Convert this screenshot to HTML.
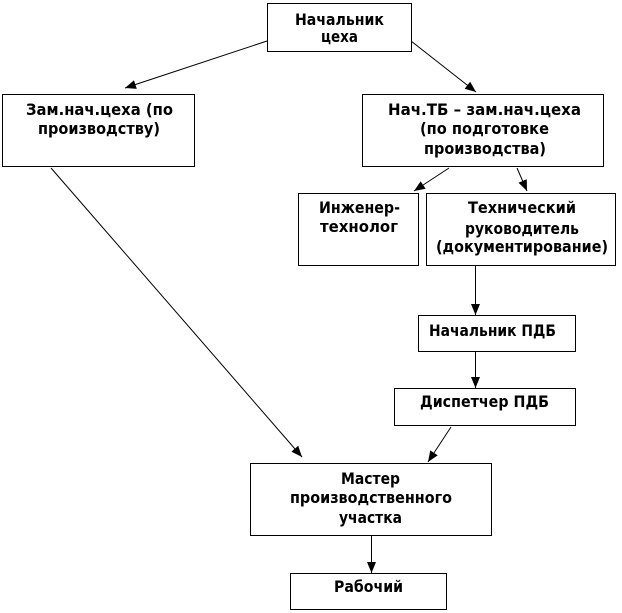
<!DOCTYPE html>
<html><head><meta charset="utf-8"><style>
html,body{margin:0;padding:0;background:#fff}
svg{display:block}
text{font-family:"DejaVu Sans","Liberation Sans",sans-serif;font-weight:bold;font-size:16px;fill:#000}
rect{fill:#fff;stroke:#000;stroke-width:1}
line{stroke:#000;stroke-width:1}
</style></head><body>
<svg width="622" height="613" viewBox="0 0 622 613" xmlns="http://www.w3.org/2000/svg">
<defs><marker id="a" markerUnits="userSpaceOnUse" markerWidth="12" markerHeight="10" refX="11" refY="5" orient="auto"><path d="M0 0.500L11 5L0 9.500z" fill="#000"/></marker></defs>
<line x1="267" y1="41" x2="125" y2="88" marker-end="url(#a)"/>
<line x1="411" y1="41" x2="476" y2="92" marker-end="url(#a)"/>
<line x1="449" y1="168" x2="414" y2="191" marker-end="url(#a)"/>
<line x1="517" y1="168" x2="527" y2="191" marker-end="url(#a)"/>
<line x1="51" y1="168" x2="302" y2="457" marker-end="url(#a)"/>
<line x1="475.500" y1="266" x2="475.500" y2="315" marker-end="url(#a)"/>
<line x1="475.500" y1="352" x2="475.500" y2="388" marker-end="url(#a)"/>
<line x1="451" y1="427" x2="428" y2="462" marker-end="url(#a)"/>
<line x1="371.500" y1="536" x2="371.500" y2="573" marker-end="url(#a)"/>
<rect x="267.500" y="3.500" width="144" height="48"/>
<rect x="2.500" y="94.500" width="192" height="72"/>
<rect x="362.500" y="94.500" width="241" height="72"/>
<rect x="298.500" y="193.500" width="120" height="72"/>
<rect x="426.500" y="193.500" width="189" height="72"/>
<rect x="418.500" y="315.500" width="157" height="36"/>
<rect x="394.500" y="388.500" width="181" height="37"/>
<rect x="250.500" y="463.500" width="241" height="72"/>
<rect x="290.500" y="573.500" width="156" height="36"/>
<text x="295" y="25" textLength="89" lengthAdjust="spacingAndGlyphs">Начальник</text>
<text x="321" y="42" textLength="37" lengthAdjust="spacingAndGlyphs">цеха</text>
<text x="26" y="115" textLength="147" lengthAdjust="spacingAndGlyphs">Зам.нач.цеха (по</text>
<text x="38" y="134" textLength="122" lengthAdjust="spacingAndGlyphs">производству)</text>
<text x="388" y="115" textLength="193" lengthAdjust="spacingAndGlyphs">Нач.ТБ – зам.нач.цеха</text>
<text x="420" y="134" textLength="129" lengthAdjust="spacingAndGlyphs">(по подготовке</text>
<text x="424" y="154" textLength="122" lengthAdjust="spacingAndGlyphs">производства)</text>
<text x="319" y="213" textLength="81" lengthAdjust="spacingAndGlyphs">Инженер-</text>
<text x="320" y="232" textLength="78" lengthAdjust="spacingAndGlyphs">технолог</text>
<text x="468" y="213" textLength="108" lengthAdjust="spacingAndGlyphs">Технический</text>
<text x="465" y="234" textLength="114" lengthAdjust="spacingAndGlyphs">руководитель</text>
<text x="436" y="252" textLength="172" lengthAdjust="spacingAndGlyphs">(документирование)</text>
<text x="429" y="336" textLength="127" lengthAdjust="spacingAndGlyphs">Начальник ПДБ</text>
<text x="420" y="407" textLength="129" lengthAdjust="spacingAndGlyphs">Диспетчер ПДБ</text>
<text x="341" y="484" textLength="59" lengthAdjust="spacingAndGlyphs">Мастер</text>
<text x="290" y="503" textLength="162" lengthAdjust="spacingAndGlyphs">производственного</text>
<text x="339" y="523" textLength="63" lengthAdjust="spacingAndGlyphs">участка</text>
<text x="334" y="592" textLength="69" lengthAdjust="spacingAndGlyphs">Рабочий</text>
</svg>
</body></html>
